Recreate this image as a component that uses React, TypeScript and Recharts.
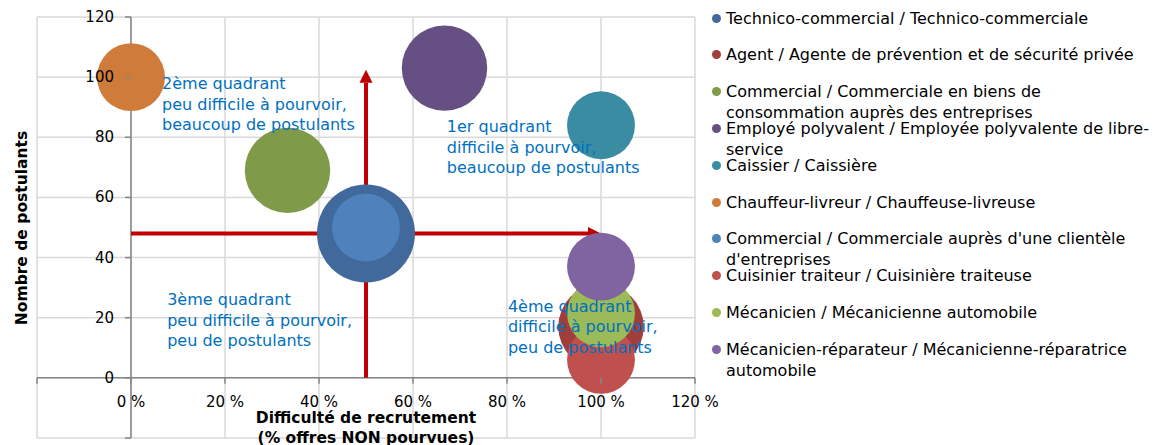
import {
  ScatterChart, Scatter, XAxis, YAxis, ZAxis, CartesianGrid,
  ReferenceLine, ReferenceDot,
} from "recharts";

const FONT = "'DejaVu Sans', sans-serif";

// metiers, one bubble each
const jobs = [
  "Technico-commercial / Technico-commerciale",
  "Agent / Agente de prévention et de sécurité privée",
  "Commercial / Commerciale en biens de consommation auprès des entreprises",
  "Employé polyvalent / Employée polyvalente de libre-service",
  "Caissier / Caissière",
  "Chauffeur-livreur / Chauffeuse-livreuse",
  "Commercial / Commerciale auprès d'une clientèle d'entreprises",
  "Cuisinier traiteur / Cuisinière traiteuse",
  "Mécanicien / Mécanicienne automobile",
  "Mécanicien-réparateur / Mécanicienne-réparatrice automobile",
];
const difficulty = [50, 100, 33.3, 66.7, 100, 0, 50, 100, 100, 100];
const applicants = [48, 17, 69, 103, 84, 100, 50, 6, 21.5, 37];
const offers = [25, 19, 19, 19, 12, 12, 12, 12, 12, 12];
const colors = [
  "#41699C", "#A03E3B", "#7F9A48", "#664F83", "#3A8CA3",
  "#CF7C3A", "#4F81BD", "#C0504D", "#9BBB59", "#8064A2",
];

const gridTicks = [-20, 0, 20, 40, 60, 80, 100, 120];
const xTicks = [0, 20, 40, 60, 80, 100, 120];
const xTickLabels = ["0 %", "20 %", "40 %", "60 %", "80 %", "100 %", "120 %"];
const yTicks = [0, 20, 40, 60, 80, 100, 120];

const thresholdX = 50;
const thresholdY = 48;
const arrowEndX = 100;
const arrowEndY = 102.5;

const quadrants = [
  { x: 6.6, y: 98, lines: ["2ème quadrant", "peu difficile à pourvoir,", "beaucoup de postulants"] },
  { x: 67.2, y: 83.7, lines: ["1er quadrant", "difficile à pourvoir,", "beaucoup de postulants"] },
  { x: 7.7, y: 26.2, lines: ["3ème quadrant", "peu difficile à pourvoir,", "peu de postulants"] },
  { x: 80.2, y: 23.9, lines: ["4ème quadrant", "difficile à pourvoir,", "peu de postulants"] },
];

const Arrow = (p: any) => {
  const { x1, y1, x2, y2 } = p;
  const len = Math.hypot(x2 - x1, y2 - y1);
  const ux = (x2 - x1) / len, uy = (y2 - y1) / len;
  const head = 13, half = 6.5;
  const bx = x2 - ux * head, by = y2 - uy * head;
  return (
    <g>
      <line x1={x1} y1={y1} x2={bx} y2={by} stroke="#C00000" strokeWidth={4} />
      <polygon
        points={`${x2},${y2} ${bx - uy * half},${by + ux * half} ${bx + uy * half},${by - ux * half}`}
        fill="#C00000"
      />
    </g>
  );
};

const TickMark = ({ viewBox, side, text }: any) => {
  const { x, y } = viewBox;
  if (side === "y") {
    return (
      <g>
        <line x1={x - 6} x2={x} y1={y} y2={y} stroke="#868686" strokeWidth={1.5} />
        {text && (
          <text x={x - 17} y={y} textAnchor="end" dominantBaseline="central"
            fontFamily={FONT} fontSize={15} fill="#000">{text}</text>
        )}
      </g>
    );
  }
  return (
    <g>
      <line x1={x} x2={x} y1={y} y2={y + 6} stroke="#868686" strokeWidth={1.5} />
      {text && (
        <text x={x} y={y + 24} textAnchor="middle" dominantBaseline="central"
          fontFamily={FONT} fontSize={15} fill="#000">{text}</text>
      )}
    </g>
  );
};

const QuadrantText = ({ viewBox, lines }: any) => (
  <text x={viewBox.x} y={viewBox.y} fontFamily={FONT} fontSize={16} fill="#0070C0"
    dominantBaseline="central">
    {lines.map((l: string, i: number) => (
      <tspan key={i} x={viewBox.x} dy={i === 0 ? 0 : 20.5}>{l}</tspan>
    ))}
  </text>
);

export default function App() {
  return (
    <div style={{ position: "absolute", left: 0, top: 0, width: 1170, height: 445, background: "#fff" }}>
      <ScatterChart width={1170} height={445} margin={{ top: 17, right: 475, bottom: 7, left: 37 }}>
        <CartesianGrid stroke="#d9d9d9" strokeWidth={1.5} />
        <XAxis type="number" dataKey="x" domain={[-20, 120]} ticks={gridTicks} hide />
        <YAxis type="number" dataKey="y" domain={[-20, 120]} ticks={gridTicks} hide />
        <ZAxis type="number" dataKey="z" domain={[0, 25]} range={[0, 7543]} />

        <ReferenceLine x={0} stroke="#868686" strokeWidth={1.5} />
        <ReferenceLine y={0} stroke="#868686" strokeWidth={1.5} />
        <ReferenceLine segment={[{ x: 0, y: thresholdY }, { x: arrowEndX, y: thresholdY }]} shape={<Arrow />} />
        <ReferenceLine segment={[{ x: thresholdX, y: 0 }, { x: thresholdX, y: arrowEndY }]} shape={<Arrow />} />

        {jobs.map((name, i) => (
          <Scatter
            key={name}
            name={name}
            data={[{ x: difficulty[i], y: applicants[i], z: offers[i] }]}
            fill={colors[i]}
            isAnimationActive={false}
          />
        ))}

        {gridTicks.map((v) => (
          <ReferenceDot key={"y" + v} x={0} y={v} r={0} stroke="none" fill="none"
            label={<TickMark side="y" text={yTicks.includes(v) ? String(v) : ""} />} />
        ))}
        {gridTicks.map((v) => (
          <ReferenceDot key={"x" + v} x={v} y={0} r={0} stroke="none" fill="none"
            label={<TickMark side="x" text={xTicks.includes(v) ? xTickLabels[xTicks.indexOf(v)] : ""} />} />
        ))}
        {quadrants.map((q, i) => (
          <ReferenceDot key={"q" + i} x={q.x} y={q.y} r={0} stroke="none" fill="none"
            label={<QuadrantText lines={q.lines} />} />
        ))}

        <text x={366} y={418} textAnchor="middle" dominantBaseline="central"
          fontFamily={FONT} fontSize={15.5} fontWeight="bold">Difficulté de recrutement</text>
        <text x={366} y={438} textAnchor="middle" dominantBaseline="central"
          fontFamily={FONT} fontSize={15.5} fontWeight="bold">(% offres NON pourvues)</text>
        <text x={22} y={228} transform="rotate(-90 22 228)" textAnchor="middle" dominantBaseline="central"
          fontFamily={FONT} fontSize={15.5} fontWeight="bold">Nombre de postulants</text>
      </ScatterChart>

      {jobs.map((name, i) => (
        <div key={name} style={{
          position: "absolute", left: 712, top: 18 + 36.8 * i - 10.5, width: 452,
          display: "flex", alignItems: "flex-start", fontFamily: FONT, fontSize: 16,
          lineHeight: "21px", color: "#000",
        }}>
          <span style={{
            width: 9, height: 9, borderRadius: "50%", background: colors[i],
            marginTop: 6, marginRight: 5, flex: "none",
          }} />
          <span>{name}</span>
        </div>
      ))}
    </div>
  );
}
